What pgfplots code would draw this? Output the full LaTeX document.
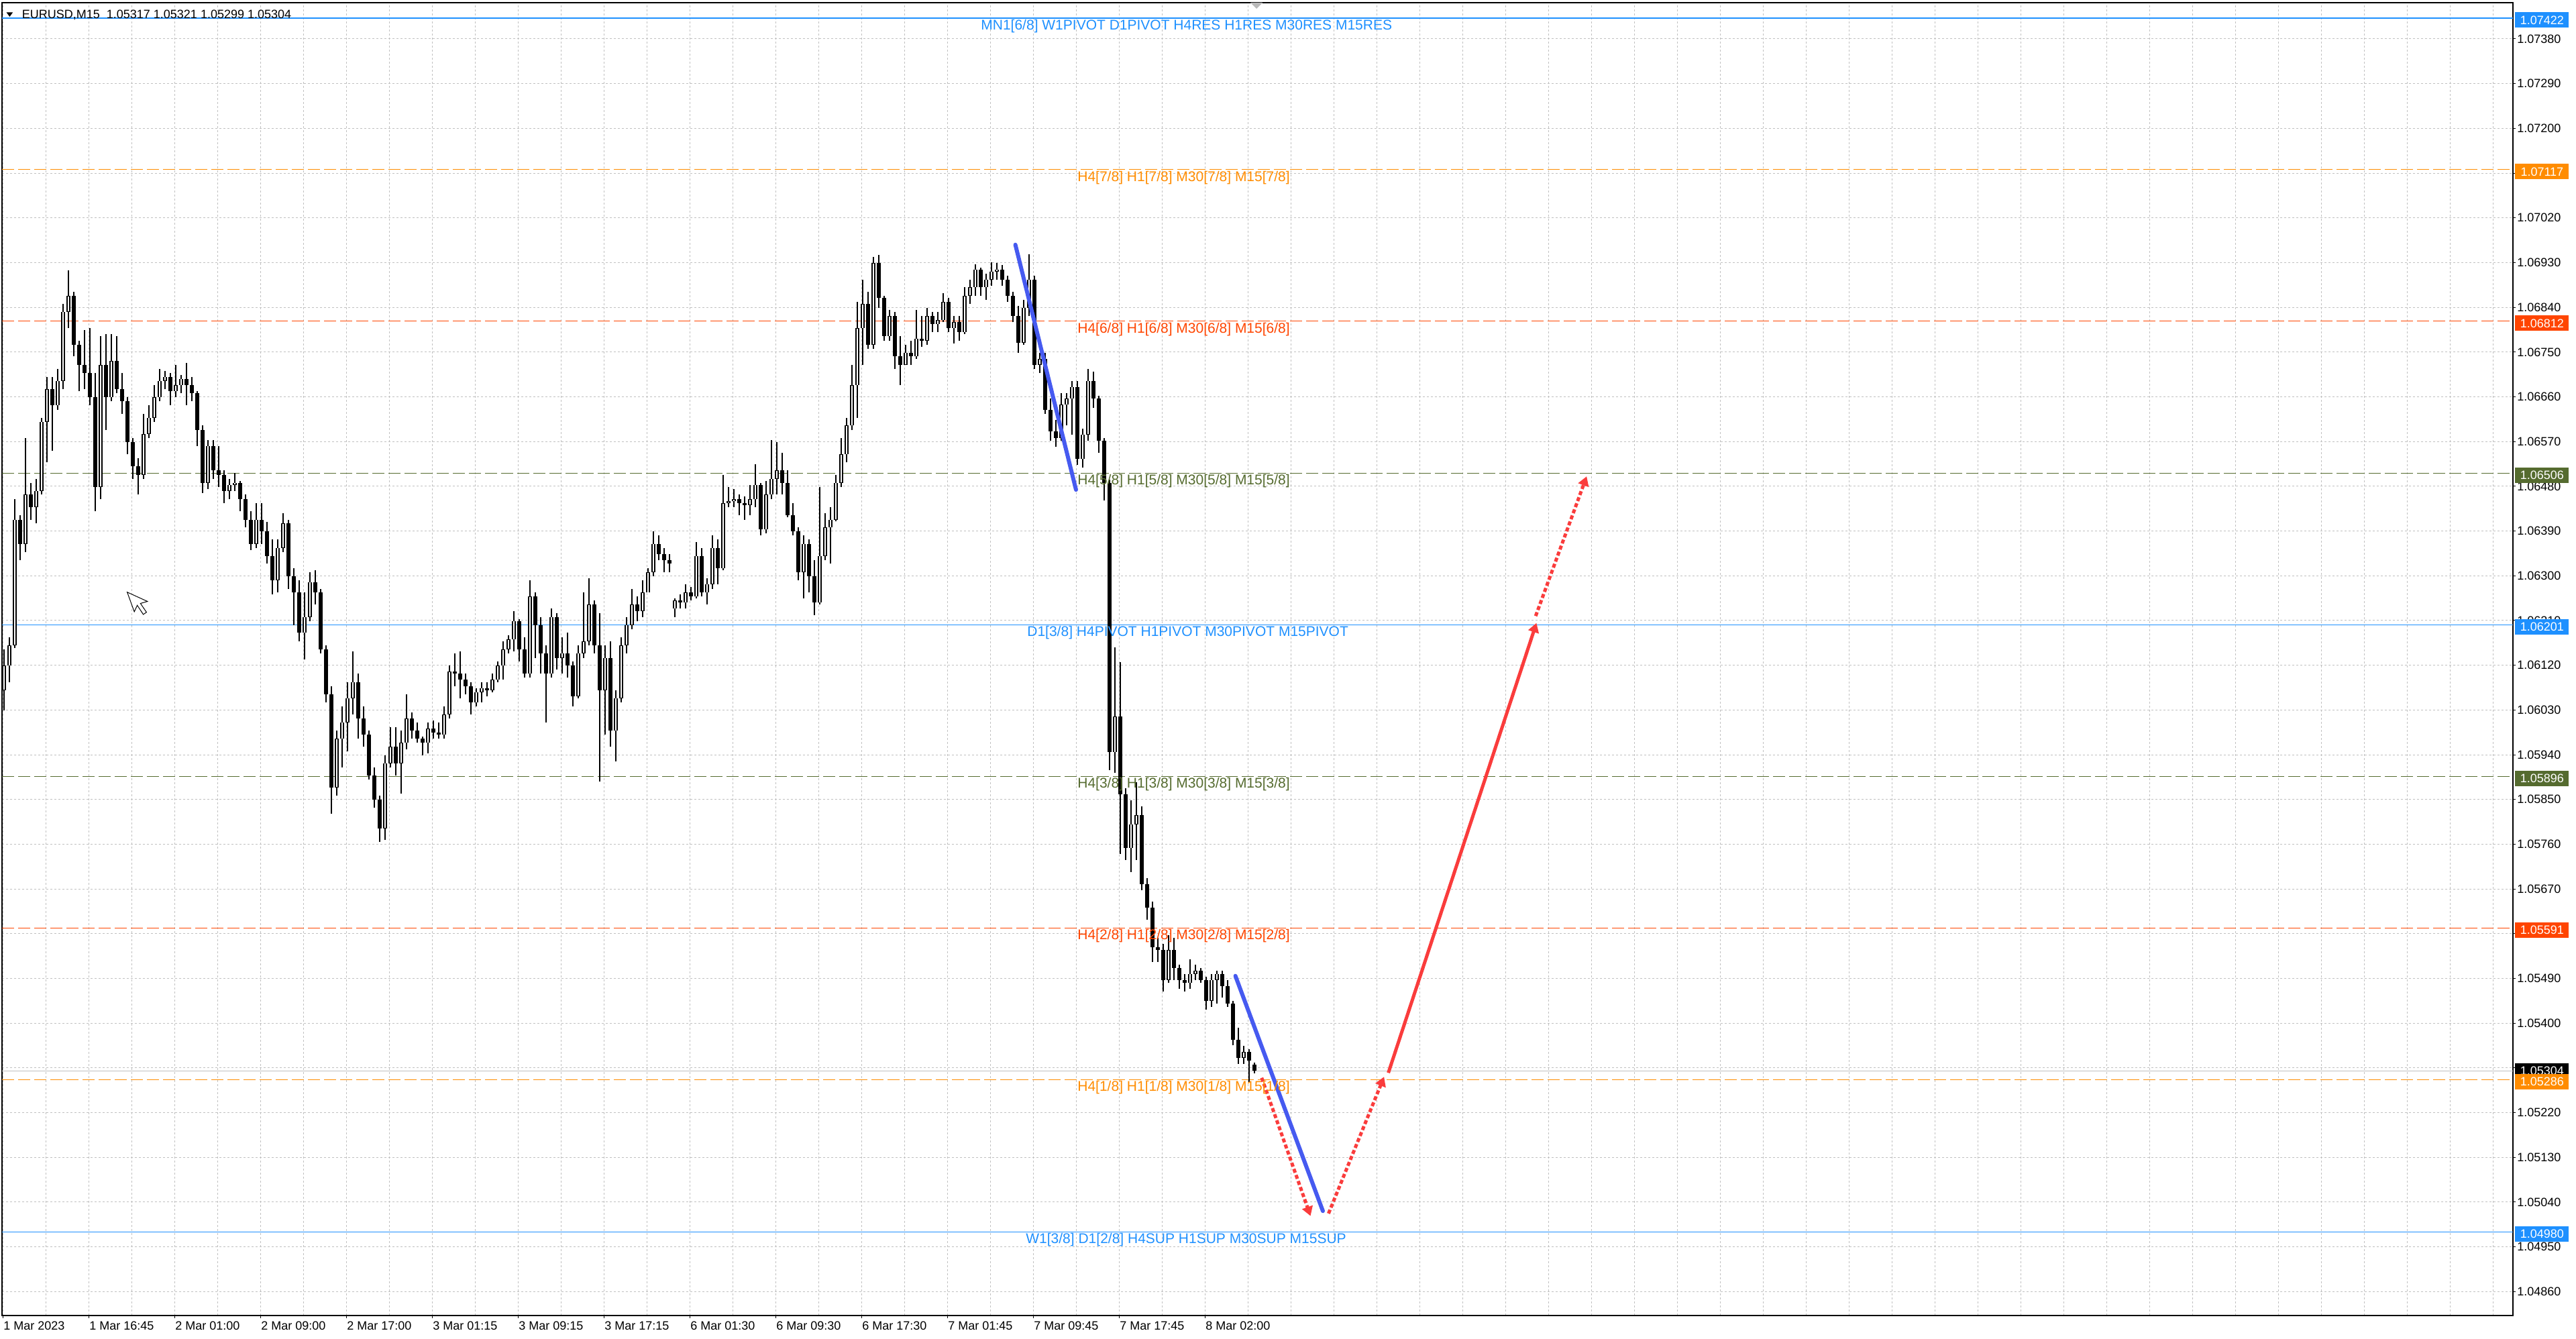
\documentclass[border=0pt]{standalone}
\usepackage{fontspec}
\setmainfont{Liberation Sans}
\usepackage{pgfplots}
\pgfplotsset{compat=1.18}
\usepackage{pgfplotstable}
\usetikzlibrary{arrows.meta}

\definecolor{lvBlue}{RGB}{30,144,255}
\definecolor{lvOrange}{RGB}{255,140,0}
\definecolor{lvRed}{RGB}{255,69,0}
\definecolor{lvOlive}{RGB}{85,107,47}
\definecolor{gridGray}{RGB}{192,192,192}
\definecolor{trendBlue}{RGB}{70,90,240}
\definecolor{arrowRed}{RGB}{250,60,60}

\newcommand\lvfont{\fontsize{10.5}{12}\selectfont}
\newcommand\tkfont{\fontsize{9}{10}\selectfont}

% EURUSD M15, two bars per row: x o h l c
\pgfplotstableread{
x o h l c
1.5 1.06070 1.06152 1.06029 1.06119
3.5 1.06119 1.06176 1.06086 1.06160
5.5 1.06160 1.06454 1.06155 1.06413
7.5 1.06413 1.06422 1.06332 1.06364
9.5 1.06364 1.06577 1.06348 1.06463
11.5 1.06463 1.06487 1.06413 1.06438
13.5 1.06438 1.06495 1.06405 1.06471
15.5 1.06471 1.06618 1.06463 1.06610
17.5 1.06610 1.06700 1.06528 1.06675
19.5 1.06675 1.06700 1.06552 1.06643
21.5 1.06643 1.06716 1.06634 1.06692
23.5 1.06692 1.06847 1.06675 1.06831
25.5 1.06831 1.06915 1.06798 1.06863
27.5 1.06863 1.06871 1.06741 1.06765
29.5 1.06765 1.06773 1.06671 1.06724
31.5 1.06724 1.06794 1.06675 1.06708
33.5 1.06708 1.06798 1.06643 1.06659
35.5 1.06659 1.06708 1.06430 1.06479
37.5 1.06479 1.06782 1.06454 1.06724
39.5 1.06724 1.06786 1.06593 1.06659
41.5 1.06659 1.06786 1.06651 1.06732
43.5 1.06732 1.06782 1.06667 1.06675
45.5 1.06675 1.06708 1.06626 1.06651
47.5 1.06651 1.06659 1.06544 1.06569
49.5 1.06569 1.06577 1.06495 1.06520
51.5 1.06520 1.06536 1.06463 1.06503
53.5 1.06503 1.06626 1.06495 1.06585
55.5 1.06585 1.06643 1.06577 1.06618
57.5 1.06618 1.06683 1.06610 1.06659
59.5 1.06659 1.06716 1.06651 1.06692
61.5 1.06692 1.06712 1.06675 1.06700
63.5 1.06700 1.06708 1.06643 1.06671
65.5 1.06671 1.06724 1.06659 1.06683
67.5 1.06683 1.06704 1.06667 1.06696
69.5 1.06696 1.06728 1.06643 1.06683
71.5 1.06683 1.06700 1.06651 1.06667
73.5 1.06667 1.06671 1.06561 1.06593
75.5 1.06593 1.06602 1.06467 1.06487
77.5 1.06487 1.06573 1.06475 1.06561
79.5 1.06561 1.06573 1.06495 1.06512
81.5 1.06512 1.06561 1.06479 1.06503
83.5 1.06503 1.06512 1.06446 1.06471
85.5 1.06471 1.06495 1.06454 1.06483
87.5 1.06483 1.06507 1.06471 1.06487
89.5 1.06487 1.06491 1.06430 1.06454
91.5 1.06454 1.06463 1.06397 1.06413
93.5 1.06413 1.06430 1.06352 1.06364
95.5 1.06364 1.06446 1.06356 1.06413
97.5 1.06413 1.06446 1.06364 1.06389
99.5 1.06389 1.06409 1.06324 1.06340
101.5 1.06340 1.06373 1.06262 1.06291
103.5 1.06291 1.06373 1.06266 1.06356
105.5 1.06356 1.06426 1.06348 1.06405
107.5 1.06405 1.06413 1.06274 1.06299
109.5 1.06299 1.06315 1.06201 1.06266
111.5 1.06266 1.06291 1.06168 1.06185
113.5 1.06185 1.06266 1.06131 1.06217
115.5 1.06217 1.06307 1.06209 1.06287
117.5 1.06287 1.06311 1.06242 1.06266
119.5 1.06266 1.06274 1.06144 1.06152
121.5 1.06152 1.06160 1.06045 1.06062
123.5 1.06062 1.06078 1.05821 1.05874
125.5 1.05874 1.05988 1.05858 1.05972
127.5 1.05972 1.06037 1.05915 1.06005
129.5 1.06005 1.06086 1.05947 1.06054
131.5 1.06054 1.06148 1.06021 1.06086
133.5 1.06086 1.06103 1.05972 1.06013
135.5 1.06013 1.06037 1.05956 1.05980
137.5 1.05980 1.05988 1.05890 1.05898
139.5 1.05898 1.05915 1.05833 1.05849
141.5 1.05849 1.05858 1.05764 1.05792
143.5 1.05792 1.05939 1.05768 1.05923
145.5 1.05923 1.05996 1.05915 1.05956
147.5 1.05956 1.05996 1.05898 1.05923
149.5 1.05923 1.05988 1.05862 1.05964
151.5 1.05964 1.06062 1.05951 1.06013
153.5 1.06013 1.06025 1.05972 1.05988
155.5 1.05988 1.06005 1.05964 1.05972
157.5 1.05972 1.05976 1.05939 1.05964
159.5 1.05964 1.06005 1.05943 1.05992
161.5 1.05992 1.06009 1.05972 1.05984
163.5 1.05984 1.06005 1.05972 1.05980
165.5 1.05980 1.06037 1.05972 1.06021
167.5 1.06021 1.06119 1.06013 1.06107
169.5 1.06107 1.06144 1.06078 1.06103
171.5 1.06103 1.06148 1.06054 1.06091
173.5 1.06091 1.06103 1.06062 1.06078
175.5 1.06078 1.06086 1.06021 1.06045
177.5 1.06045 1.06074 1.06037 1.06066
179.5 1.06066 1.06086 1.06045 1.06074
181.5 1.06074 1.06086 1.06058 1.06070
183.5 1.06070 1.06103 1.06066 1.06091
185.5 1.06091 1.06127 1.06086 1.06119
187.5 1.06119 1.06168 1.06091 1.06152
189.5 1.06152 1.06180 1.06144 1.06172
191.5 1.06172 1.06229 1.06148 1.06209
193.5 1.06209 1.06213 1.06127 1.06152
195.5 1.06152 1.06176 1.06095 1.06103
197.5 1.06103 1.06291 1.06095 1.06258
199.5 1.06258 1.06266 1.06135 1.06201
201.5 1.06201 1.06217 1.06103 1.06144
203.5 1.06144 1.06160 1.06005 1.06103
205.5 1.06103 1.06234 1.06095 1.06217
207.5 1.06217 1.06225 1.06111 1.06135
209.5 1.06135 1.06176 1.06103 1.06144
211.5 1.06144 1.06185 1.06095 1.06119
213.5 1.06119 1.06127 1.06037 1.06058
215.5 1.06058 1.06160 1.06054 1.06144
217.5 1.06144 1.06266 1.06135 1.06168
219.5 1.06168 1.06295 1.06160 1.06242
221.5 1.06242 1.06250 1.06144 1.06160
223.5 1.06160 1.06225 1.05886 1.06070
225.5 1.06070 1.06160 1.05980 1.06135
227.5 1.06135 1.06168 1.05956 1.05988
229.5 1.05988 1.06070 1.05927 1.06054
231.5 1.06054 1.06176 1.06045 1.06160
233.5 1.06160 1.06217 1.06144 1.06201
235.5 1.06201 1.06274 1.06193 1.06242
237.5 1.06242 1.06258 1.06209 1.06229
239.5 1.06229 1.06291 1.06217 1.06266
241.5 1.06266 1.06315 1.06266 1.06307
243.5 1.06307 1.06389 1.06299 1.06364
245.5 1.06364 1.06381 1.06332 1.06344
247.5 1.06344 1.06356 1.06307 1.06332
249.5 1.06332 1.06344 1.06307 1.06324
251.5 1.06234 1.06254 1.06217 1.06250
253.5 1.06250 1.06262 1.06234 1.06246
255.5 1.06246 1.06283 1.06234 1.06266
257.5 1.06266 1.06278 1.06250 1.06258
259.5 1.06258 1.06368 1.06254 1.06340
261.5 1.06340 1.06356 1.06258 1.06266
263.5 1.06266 1.06295 1.06242 1.06283
265.5 1.06283 1.06381 1.06274 1.06356
267.5 1.06356 1.06373 1.06283 1.06315
269.5 1.06315 1.06503 1.06311 1.06446
271.5 1.06446 1.06479 1.06438 1.06450
273.5 1.06450 1.06475 1.06438 1.06454
275.5 1.06454 1.06463 1.06422 1.06446
277.5 1.06446 1.06459 1.06413 1.06442
279.5 1.06442 1.06483 1.06422 1.06454
281.5 1.06454 1.06524 1.06438 1.06483
283.5 1.06483 1.06487 1.06381 1.06393
285.5 1.06393 1.06491 1.06385 1.06463
287.5 1.06463 1.06573 1.06454 1.06495
289.5 1.06495 1.06569 1.06463 1.06512
291.5 1.06512 1.06548 1.06463 1.06487
293.5 1.06487 1.06512 1.06418 1.06422
295.5 1.06422 1.06446 1.06381 1.06389
297.5 1.06389 1.06397 1.06291 1.06307
299.5 1.06307 1.06381 1.06254 1.06364
301.5 1.06364 1.06373 1.06266 1.06299
303.5 1.06299 1.06332 1.06221 1.06246
305.5 1.06246 1.06479 1.06242 1.06340
307.5 1.06340 1.06426 1.06332 1.06397
309.5 1.06397 1.06438 1.06324 1.06413
311.5 1.06413 1.06503 1.06409 1.06487
313.5 1.06487 1.06577 1.06479 1.06544
315.5 1.06544 1.06618 1.06528 1.06602
317.5 1.06602 1.06724 1.06593 1.06683
319.5 1.06683 1.06851 1.06618 1.06798
321.5 1.06798 1.06896 1.06724 1.06847
323.5 1.06847 1.06871 1.06757 1.06765
325.5 1.06765 1.06941 1.06757 1.06929
327.5 1.06929 1.06945 1.06839 1.06859
329.5 1.06859 1.06863 1.06773 1.06782
331.5 1.06782 1.06835 1.06773 1.06822
333.5 1.06822 1.06831 1.06716 1.06741
335.5 1.06741 1.06782 1.06683 1.06724
337.5 1.06724 1.06765 1.06724 1.06749
339.5 1.06749 1.06773 1.06724 1.06741
341.5 1.06741 1.06835 1.06736 1.06777
343.5 1.06777 1.06822 1.06761 1.06773
345.5 1.06773 1.06839 1.06765 1.06822
347.5 1.06822 1.06831 1.06790 1.06806
349.5 1.06806 1.06831 1.06790 1.06814
351.5 1.06814 1.06869 1.06810 1.06851
353.5 1.06851 1.06859 1.06790 1.06798
355.5 1.06798 1.06822 1.06767 1.06810
357.5 1.06810 1.06822 1.06773 1.06790
359.5 1.06790 1.06880 1.06786 1.06863
361.5 1.06863 1.06896 1.06847 1.06880
363.5 1.06880 1.06926 1.06863 1.06916
365.5 1.06916 1.06920 1.06863 1.06880
367.5 1.06880 1.06908 1.06855 1.06896
369.5 1.06896 1.06930 1.06884 1.06912
371.5 1.06912 1.06929 1.06896 1.06916
373.5 1.06916 1.06925 1.06884 1.06896
375.5 1.06896 1.06904 1.06851 1.06863
377.5 1.06863 1.06871 1.06810 1.06822
379.5 1.06822 1.06843 1.06749 1.06769
381.5 1.06769 1.06855 1.06765 1.06839
383.5 1.06839 1.06947 1.06822 1.06896
385.5 1.06896 1.06904 1.06716 1.06724
387.5 1.06724 1.06749 1.06708 1.06736
389.5 1.06736 1.06749 1.06626 1.06634
391.5 1.06634 1.06656 1.06571 1.06590
393.5 1.06590 1.06614 1.06559 1.06577
395.5 1.06577 1.06668 1.06571 1.06644
397.5 1.06644 1.06668 1.06602 1.06656
399.5 1.06656 1.06692 1.06584 1.06680
401.5 1.06680 1.06692 1.06523 1.06535
403.5 1.06535 1.06596 1.06517 1.06584
405.5 1.06584 1.06716 1.06571 1.06692
407.5 1.06692 1.06710 1.06638 1.06656
409.5 1.06656 1.06662 1.06547 1.06571
411.5 1.06571 1.06577 1.06451 1.06487
413.5 1.06487 1.06493 1.05909 1.05945
415.5 1.05945 1.06156 1.05903 1.06017
417.5 1.06017 1.06126 1.05740 1.05861
419.5 1.05861 1.05873 1.05728 1.05752
421.5 1.05752 1.05848 1.05704 1.05800
423.5 1.05800 1.05885 1.05728 1.05818
425.5 1.05818 1.05836 1.05668 1.05680
427.5 1.05680 1.05692 1.05608 1.05632
429.5 1.05632 1.05644 1.05523 1.05553
431.5 1.05553 1.05571 1.05523 1.05547
433.5 1.05547 1.05559 1.05463 1.05487
435.5 1.05487 1.05577 1.05481 1.05547
437.5 1.05547 1.05571 1.05487 1.05511
439.5 1.05511 1.05517 1.05469 1.05487
441.5 1.05487 1.05499 1.05463 1.05481
443.5 1.05481 1.05529 1.05469 1.05499
445.5 1.05499 1.05517 1.05487 1.05505
447.5 1.05505 1.05511 1.05481 1.05487
449.5 1.05487 1.05493 1.05427 1.05445
451.5 1.05445 1.05499 1.05433 1.05487
453.5 1.05487 1.05505 1.05439 1.05499
455.5 1.05499 1.05505 1.05451 1.05475
457.5 1.05475 1.05487 1.05433 1.05439
459.5 1.05439 1.05445 1.05355 1.05367
461.5 1.05367 1.05391 1.05318 1.05330
463.5 1.05330 1.05355 1.05318 1.05342
465.5 1.05342 1.05348 1.05282 1.05324
467.5 1.05317 1.05321 1.05299 1.05304
}\candles

\begin{document}
\begin{tikzpicture}
\useasboundingbox (-1.5pt,-17.5pt) rectangle (1918.5pt,980.5pt);
\begin{axis}[
    at={(0pt,0pt)}, anchor=south west,
    scale only axis, width=1871.5pt, height=978.5pt,
    xmin=0.75, xmax=936.5, ymin=1.048118, ymax=1.074529,
    clip mode=individual,
    axis line style={black, line width=0.6pt},
    tick align=outside, major tick length=2pt, minor tick length=0pt,
    tick style={black, line width=0.5pt},
    xtick pos=left, ytick pos=right, yticklabel pos=right,
    xtick={1.25,33.25,65.25,97.25,129.25,161.25,193.25,225.25,257.25,289.25,321.25,353.25,385.25,417.25,449.25},
    xticklabels={1 Mar 2023,1 Mar 16:45,2 Mar 01:00,2 Mar 09:00,2 Mar 17:00,3 Mar 01:15,3 Mar 09:15,3 Mar 17:15,6 Mar 01:30,6 Mar 09:30,6 Mar 17:30,7 Mar 01:45,7 Mar 09:45,7 Mar 17:45,8 Mar 02:00},
    minor xtick={17.25,49.25,81.25,113.25,145.25,177.25,209.25,241.25,273.25,305.25,337.25,369.25,401.25,433.25,465.25,481.25,497.25,513.25,529.25,545.25,561.25,577.25,593.25,609.25,625.25,641.25,657.25,673.25,689.25,705.25,721.25,737.25,753.25,769.25,785.25,801.25,817.25,833.25,849.25,865.25,881.25,897.25,913.25,929.25},
    ytick={1.04860,1.04950,1.05040,1.05130,1.05220,1.05310,1.05400,1.05490,1.05580,1.05670,1.05760,1.05850,1.05940,1.06030,1.06120,1.06210,1.06300,1.06390,1.06480,1.06570,1.06660,1.06750,1.06840,1.06930,1.07020,1.07110,1.07200,1.07290,1.07380},
    yticklabels={1.04860,1.04950,1.05040,1.05130,1.05220,1.05310,1.05400,1.05490,1.05580,1.05670,1.05760,1.05850,1.05940,1.06030,1.06120,1.06210,1.06300,1.06390,1.06480,1.06570,1.06660,1.06750,1.06840,1.06930,1.07020,1.07110,1.07200,1.07290,1.07380},
    grid=both,
    grid style={gridGray, line width=0.5pt, dash pattern=on 1.5pt off 1.5pt},
    ticklabel style={font=\tkfont, inner sep=0pt},
    xticklabel style={anchor=north west, yshift=-2.5pt},
    yticklabel style={anchor=west, xshift=1pt},
]

% level lines
\addplot[lvBlue, line width=1pt] coordinates {(0.75,1.07422) (936.5,1.07422)};
\addplot[lvOrange, line width=0.6pt, dash pattern=on 9pt off 3pt] coordinates {(0.75,1.07117) (936.5,1.07117)};
\addplot[lvRed, line width=0.6pt, dash pattern=on 9pt off 3pt] coordinates {(0.75,1.06812) (936.5,1.06812)};
\addplot[lvOlive, line width=0.6pt, dash pattern=on 9pt off 3pt] coordinates {(0.75,1.06506) (936.5,1.06506)};
\addplot[lvBlue, line width=0.5pt] coordinates {(0.75,1.06201) (936.5,1.06201)};
\addplot[lvOlive, line width=0.6pt, dash pattern=on 9pt off 3pt] coordinates {(0.75,1.05896) (936.5,1.05896)};
\addplot[lvRed, line width=0.6pt, dash pattern=on 9pt off 3pt] coordinates {(0.75,1.05591) (936.5,1.05591)};
\addplot[gridGray, line width=0.5pt] coordinates {(0.75,1.05304) (936.5,1.05304)};
\addplot[lvOrange, line width=0.6pt, dash pattern=on 9pt off 3pt] coordinates {(0.75,1.05286) (936.5,1.05286)};
\addplot[lvBlue, line width=0.5pt] coordinates {(0.75,1.04980) (936.5,1.04980)};

% candles: wicks, bodies, white inside of rising bodies
\addplot[draw=none, mark=none, error bars/.cd, y dir=plus, y explicit, error mark=none,
    error bar style={draw=black, solid, line width=0.6pt}]
    table[x=x, y=l, y error expr=\thisrow{h}-\thisrow{l}] {\candles};
\addplot[draw=none, mark=none, error bars/.cd, y dir=plus, y explicit, error mark=none,
    error bar style={draw=black, solid, line width=2.6pt}]
    table[x=x, y expr={min(\thisrow{o},\thisrow{c})}, y error expr={max(abs(\thisrow{c}-\thisrow{o}),0.000015)}] {\candles};
\addplot[draw=none, mark=none, restrict expr to domain={\thisrow{c}-\thisrow{o}}{0.00003:1},
    error bars/.cd, y dir=plus, y explicit, error mark=none,
    error bar style={draw=white, solid, line width=1.4pt}]
    table[x=x, y expr={\thisrow{o}+0.000008}, y error expr={\thisrow{c}-\thisrow{o}-0.000016}] {\candles};

% hand drawn trend lines and arrows
\addplot[trendBlue, line width=3pt, line cap=round] coordinates {(378.4,1.06966) (401.0,1.06473)};
\addplot[trendBlue, line width=3pt, line cap=round] coordinates {(460.4,1.05495) (493.0,1.05022)};
\addplot[arrowRed, line width=2.5pt, dash pattern=on 3pt off 1.8pt, -{Triangle[length=7pt,width=8pt]}] coordinates {(470.2,1.05290) (488.4,1.05012)};
\addplot[arrowRed, line width=2.5pt, dash pattern=on 3pt off 1.8pt, -{Triangle[length=7pt,width=8pt]}] coordinates {(495.1,1.05017) (515.8,1.05292)};
\addplot[arrowRed, line width=2.5pt, -{Triangle[length=7pt,width=8pt]}] coordinates {(517.4,1.05300) (572.6,1.06205)};
\addplot[arrowRed, line width=2.5pt, dash pattern=on 3pt off 1.8pt, -{Triangle[length=7pt,width=8pt]}] coordinates {(572.3,1.06219) (591.3,1.06500)};

% level labels
\node[anchor=north west, inner sep=0pt, yshift=-0.8pt, text=lvBlue, font=\lvfont] at (axis cs:365.5,1.07422) {MN1[6/8] W1PIVOT D1PIVOT H4RES H1RES M30RES M15RES};
\node[anchor=north west, inner sep=0pt, yshift=-0.8pt, text=lvOrange, font=\lvfont] at (axis cs:401.5,1.07117) {H4[7/8] H1[7/8] M30[7/8] M15[7/8]};
\node[anchor=north west, inner sep=0pt, yshift=-0.8pt, text=lvRed, font=\lvfont] at (axis cs:401.5,1.06812) {H4[6/8] H1[6/8] M30[6/8] M15[6/8]};
\node[anchor=north west, inner sep=0pt, yshift=-0.8pt, text=lvOlive, font=\lvfont] at (axis cs:401.5,1.06506) {H4[5/8] H1[5/8] M30[5/8] M15[5/8]};
\node[anchor=north west, inner sep=0pt, yshift=-0.8pt, text=lvBlue, font=\lvfont] at (axis cs:382.75,1.06201) {D1[3/8] H4PIVOT H1PIVOT M30PIVOT M15PIVOT};
\node[anchor=north west, inner sep=0pt, yshift=-0.8pt, text=lvOlive, font=\lvfont] at (axis cs:401.5,1.05896) {H4[3/8] H1[3/8] M30[3/8] M15[3/8]};
\node[anchor=north west, inner sep=0pt, yshift=-0.8pt, text=lvRed, font=\lvfont] at (axis cs:401.5,1.05591) {H4[2/8] H1[2/8] M30[2/8] M15[2/8]};
\node[anchor=north west, inner sep=0pt, yshift=-0.8pt, text=lvOrange, font=\lvfont] at (axis cs:401.5,1.05286) {H4[1/8] H1[1/8] M30[1/8] M15[1/8]};
\node[anchor=north west, inner sep=0pt, yshift=-0.8pt, text=lvBlue, font=\lvfont] at (axis cs:382.25,1.04980) {W1[3/8] D1[2/8] H4SUP H1SUP M30SUP M15SUP};

% price boxes on the scale
\tikzset{pbox/.style={anchor=west, xshift=1.5pt, yshift=-1.5pt, minimum width=40pt, minimum height=11.5pt, inner sep=0pt, text=white, font=\tkfont}}
\node[pbox, fill=lvBlue] at (axis cs:936.5,1.07422) {1.07422};
\node[pbox, fill=lvOrange] at (axis cs:936.5,1.07117) {1.07117};
\node[pbox, fill=lvRed] at (axis cs:936.5,1.06812) {1.06812};
\node[pbox, fill=lvOlive] at (axis cs:936.5,1.06506) {1.06506};
\node[pbox, fill=lvBlue] at (axis cs:936.5,1.06201) {1.06201};
\node[pbox, fill=lvOlive] at (axis cs:936.5,1.05896) {1.05896};
\node[pbox, fill=lvRed] at (axis cs:936.5,1.05591) {1.05591};
\node[pbox, fill=black, yshift=1.5pt] at (axis cs:936.5,1.05304) {1.05304};
\node[pbox, fill=lvOrange] at (axis cs:936.5,1.05286) {1.05286};
\node[pbox, fill=lvBlue] at (axis cs:936.5,1.04980) {1.04980};

% header, shift marker and mouse pointer
\fill (rel axis cs:0,1) ++(3.3pt,-7.2pt) -- ++(4.8pt,0pt) -- ++(-2.4pt,-3.3pt) -- cycle;
\node[anchor=west, inner sep=0pt, xshift=14.75pt, yshift=-9pt, font=\tkfont] at (rel axis cs:0,1) {EURUSD,M15\ \ 1.05317 1.05321 1.05299 1.05304};
\fill[gray!55] (axis cs:468.3,1.074529) ++(-4.5pt,0pt) -- ++(9pt,0pt) -- ++(-4.5pt,-4.5pt) -- cycle;
\filldraw[fill=white, draw=black, line width=0.5pt] (axis cs:47.4,1.06267) -- ++(5.3pt,-14.6pt) -- ++(2.2pt,4.8pt) -- ++(4.5pt,-6.8pt) -- ++(2.4pt,1.6pt) -- ++(-4.5pt,6.6pt) -- ++(5.2pt,1.5pt) -- cycle;
\end{axis}
\end{tikzpicture}
\end{document}
